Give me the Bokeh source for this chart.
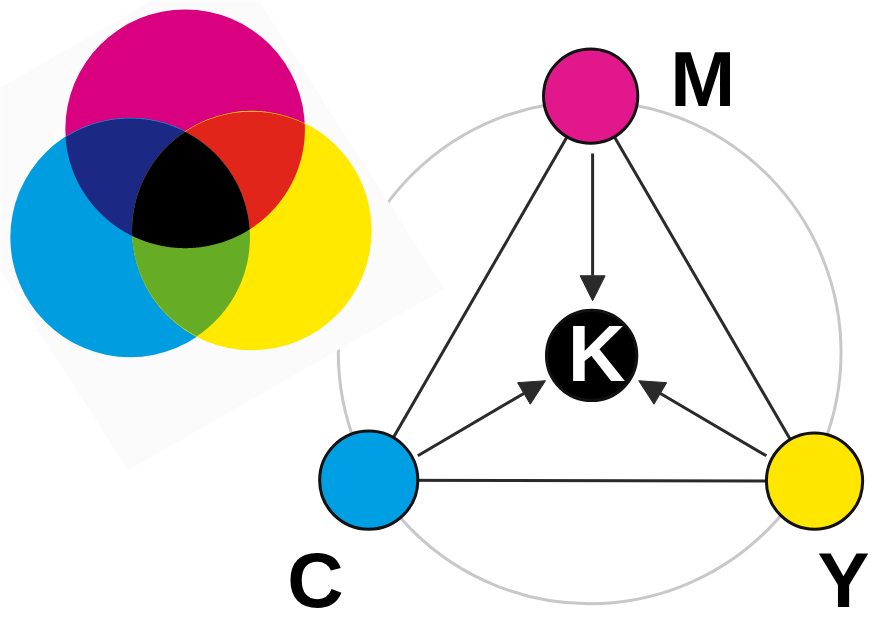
import numpy as np
from bokeh.plotting import figure
from bokeh.models import Range1d, ColumnDataSource, Arrow, NormalHead
from bokeh.core.properties import value
from bokeh.embed import file_html
from bokeh.resources import INLINE

# ---------------- data ----------------
# Subtractive (CMY) Venn: circle names and colours
venn_names = ["Magenta", "Cyan", "Yellow"]
venn_colors = ["#D9017F", "#009EE0", "#FFE900"]
venn_cx = [188, 132, 256]
venn_cy = [132, 243, 236]
venn_r = [122, 122, 122]
# overlap colours
overlap_pairs = [(0, 1), (0, 2), (1, 2)]
overlap_colors = ["#1B2884", "#E1251B", "#66AC24"]
triple_color = "#000000"

# CMYK diagram nodes
node_labels = ["M", "C", "Y", "K"]
node_colors = ["#E2178C", "#009FE3", "#FFE600", "#000000"]
node_x = [601, 375, 829, 602]
node_y = [98, 492, 493, 364]
node_r = [48, 50, 49, 46]

# edges of triangle (index pairs) and arrows into K
tri_edges = [(0, 1), (0, 2), (1, 2)]
arrow_start_x = [603, 425, 780]
arrow_start_y = [157, 467, 467]
arrow_end_x = [603, 555, 650]
arrow_end_y = [308, 390, 390]

# outer label positions (vertical centre of capitals)
label_text = ["M", "C", "Y"]
label_x = [682, 292, 832]
label_y = [80, 594, 594]

# ---------------- figure ----------------
p = figure(width=870, height=624, x_range=Range1d(0, 886), y_range=Range1d(640, 0),
           output_backend="svg", toolbar_location=None, min_border=0)
p.axis.visible = False
p.grid.visible = False
p.outline_line_color = None
p.background_fill_color = "white"
p.border_fill_color = "white"

# background grey ring
p.circle(x=[600], y=[361], radius=256, fill_color=None, line_color="#C8C8C8", line_width=3)

# faint backing square behind the venn
sq_x = [234, 452, 130, -88]
sq_y = [-46, 296, 482, 140]
p.patch(sq_x, sq_y, fill_color="#FBFBFB", line_color=None)


def circle_points(cx, cy, r, n=720):
    t = np.linspace(0, 2 * np.pi, n, endpoint=False)
    return cx + r * np.cos(t), cy + r * np.sin(t)


def region(idx):
    xs, ys = [], []
    for i in idx:
        px, py = circle_points(venn_cx[i], venn_cy[i], venn_r[i])
        mask = np.ones_like(px, dtype=bool)
        for j in idx:
            if j == i:
                continue
            mask &= (px - venn_cx[j]) ** 2 + (py - venn_cy[j]) ** 2 <= venn_r[j] ** 2
        xs.append(px[mask]); ys.append(py[mask])
    xs = np.concatenate(xs); ys = np.concatenate(ys)
    mx, my = xs.mean(), ys.mean()
    order = np.argsort(np.arctan2(ys - my, xs - mx))
    return list(xs[order]), list(ys[order])


p.circle(x=venn_cx, y=venn_cy, radius=venn_r, fill_color=venn_colors, line_color=None)
ox, oy = [], []
for a, b in overlap_pairs:
    rx, ry = region([a, b])
    ox.append(rx); oy.append(ry)
p.patches(ox, oy, fill_color=overlap_colors, line_color=None)
tx, ty = region([0, 1, 2])
p.patch(tx, ty, fill_color=triple_color, line_color=None)

# triangle edges
p.segment(x0=[node_x[a] for a, b in tri_edges], y0=[node_y[a] for a, b in tri_edges],
          x1=[node_x[b] for a, b in tri_edges], y1=[node_y[b] for a, b in tri_edges],
          line_color="#2A2A2A", line_width=3)

# arrows into K
asrc = ColumnDataSource(dict(x0=arrow_start_x, y0=arrow_start_y, x1=arrow_end_x, y1=arrow_end_y))
p.add_layout(Arrow(source=asrc, x_start="x0", y_start="y0", x_end="x1", y_end="y1",
                   line_color="#2A2A2A", line_width=3,
                   end=NormalHead(size=25, fill_color="#2A2A2A", line_color="#2A2A2A", line_width=1)))

# nodes
p.circle(x=node_x, y=node_y, radius=node_r, fill_color=node_colors, line_color="#111111", line_width=3)

# K label
p.text(x=[607], y=[362], text=["K"], text_color="white", text_font=value("Liberation Sans"),
       text_font_style="bold", text_font_size="80px", text_align="center", text_baseline="middle")

# outer labels
p.text(x=label_x, y=label_y, text=label_text, text_color="black", text_font=value("Liberation Sans"),
       text_font_style="bold", text_font_size="78px", text_align="left", text_baseline="middle")

open("out.html", "w").write(file_html(p, INLINE))
